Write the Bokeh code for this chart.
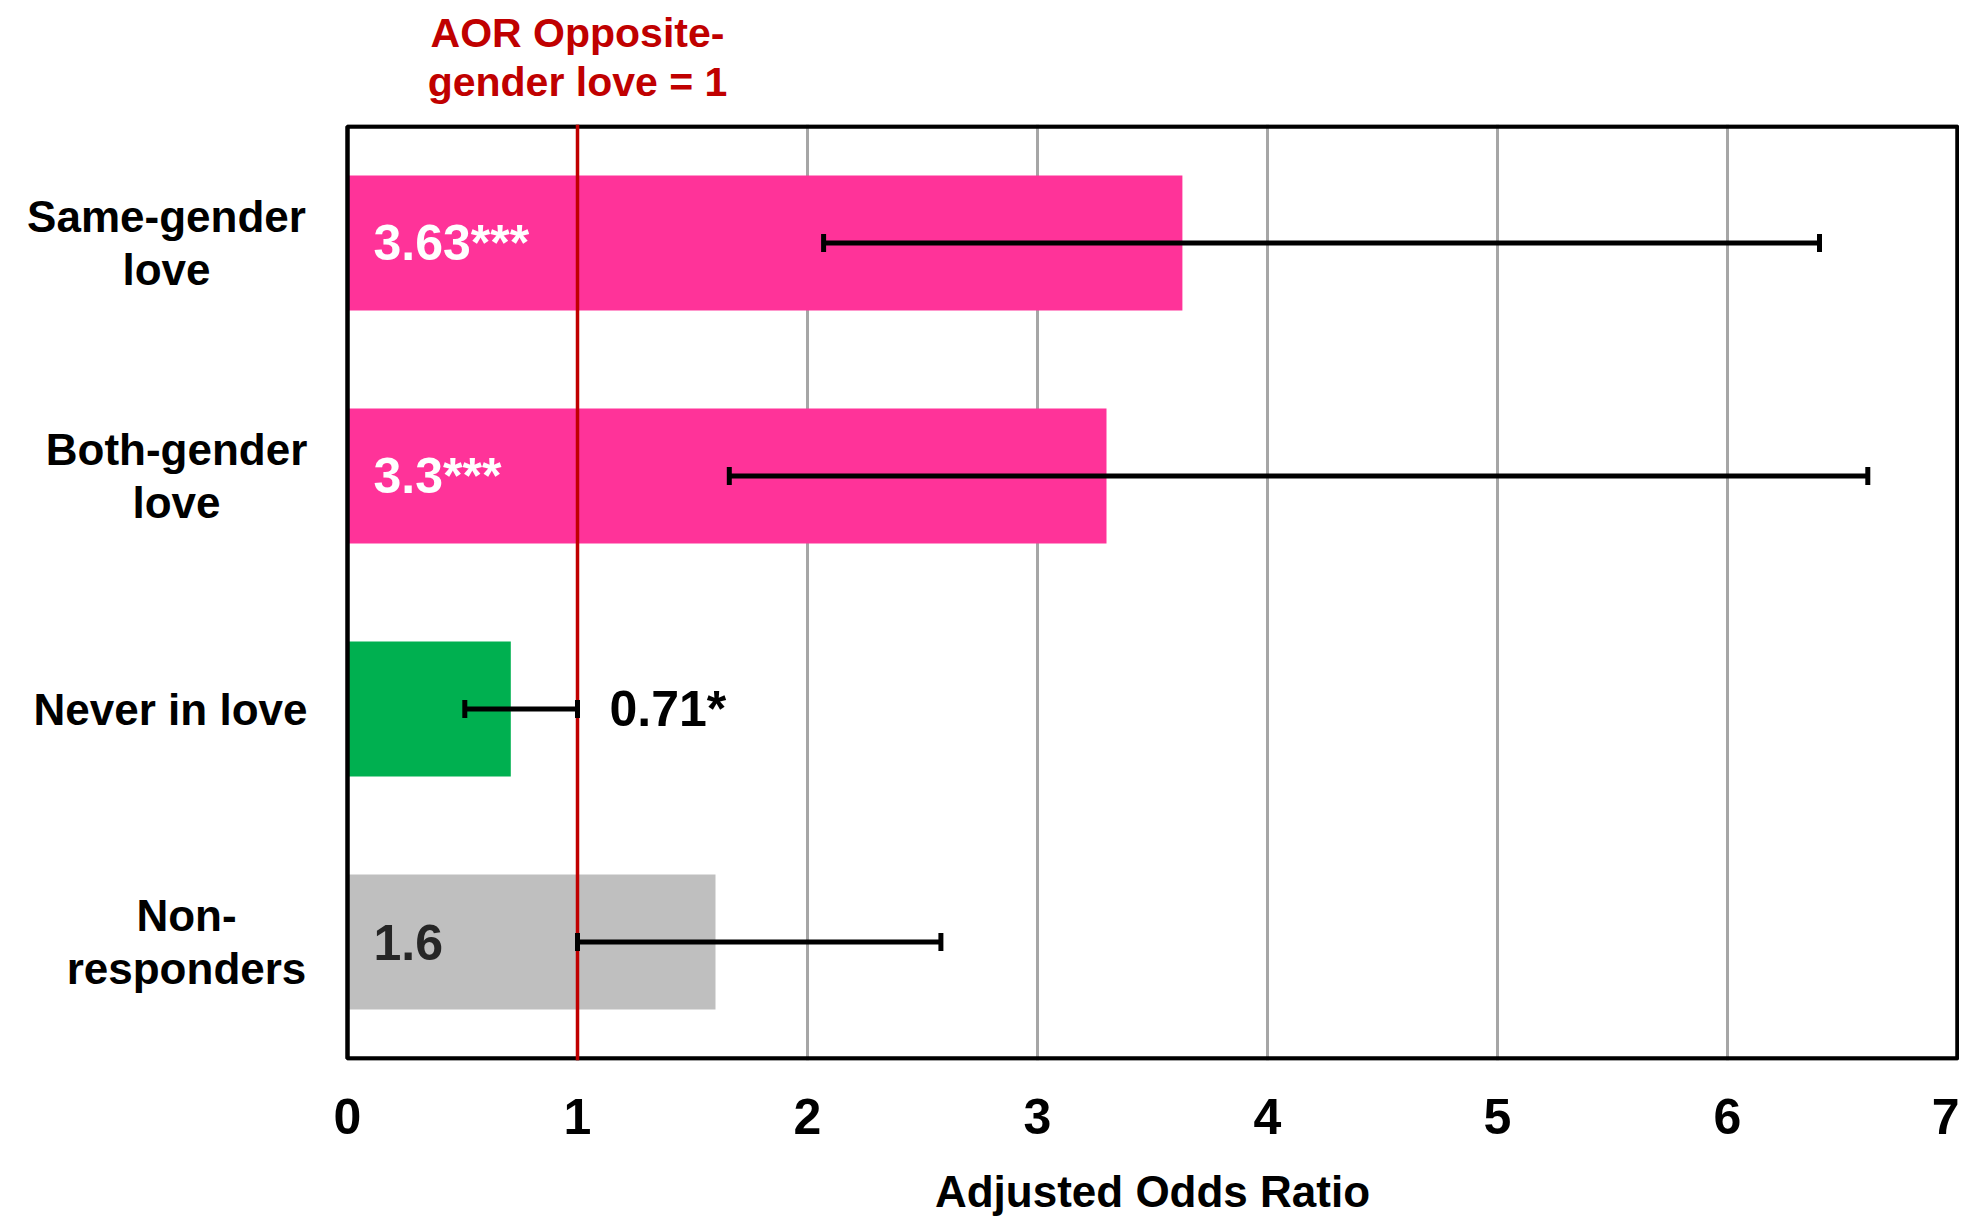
from bokeh.plotting import figure
from bokeh.models import (ColumnDataSource, Range1d, Span, LabelSet,
                          Whisker, TeeHead, FixedTicker, LinearAxis)
from bokeh.core.properties import value
from bokeh.embed import file_html
from bokeh.resources import INLINE

# ---------------- data ----------------
categories = ["Same-gender\nlove", "Both-gender\nlove", "Never in love", "Non-\nresponders"]
aor = [3.63, 3.3, 0.71, 1.6]
ci_low = [2.07, 1.66, 0.51, 1.0]
ci_high = [6.4, 6.61, 1.0, 2.58]
value_labels = ["3.63***", "3.3***", "0.71*", "1.6"]
bar_colors = ["#FF3399", "#FF3399", "#00B050", "#BFBFBF"]
value_label_colors = ["#FFFFFF", "#FFFFFF", "#000000", "#262626"]
label_inside = [True, True, False, True]
x_ticks = [0, 1, 2, 3, 4, 5, 6, 7]
x_max = 7
reference_value = 1
annotation_text = "AOR Opposite-\ngender love = 1"
x_axis_title = "Adjusted Odds Ratio"

# ---------------- styling / layout ----------------
FONT = "Liberation Sans"
BOX_LEFT_PX = 347          # space left of the plot box (category labels live here)
BOX_W_PX = 1610            # plot box width
BOX_H_PX = 933             # plot box height
PAD_PX = 2                 # so the box border is not clipped
TOP_PX = 124
cat_label_offsets = [-181, -171, -177, -161]   # px from box left to label centre

n = len(categories)
ppu_x = BOX_W_PX / x_max
ppu_y = BOX_H_PX / n
x_range = Range1d(-BOX_LEFT_PX / ppu_x, x_max + PAD_PX / ppu_x)
y_range = Range1d(-PAD_PX / ppu_y, n + PAD_PX / ppu_y)

frame_w = BOX_LEFT_PX + BOX_W_PX + PAD_PX
frame_h = BOX_H_PX + 2 * PAD_PX
p = figure(
    width=frame_w, height=1218,
    x_range=x_range, y_range=y_range,
    output_backend="svg", toolbar_location=None,
    min_border_left=0, min_border_right=0, min_border_top=TOP_PX,
    min_border_bottom=1218 - TOP_PX - frame_h,
)
p.background_fill_color = "white"
p.border_fill_color = "white"
p.outline_line_color = None

# x axis (bottom)
p.xaxis.ticker = FixedTicker(ticks=x_ticks)
p.xaxis.major_tick_line_color = None
p.xaxis.minor_tick_line_color = None
p.xaxis.major_tick_out = 0
p.xaxis.major_tick_in = 0
p.xaxis.axis_line_color = None
p.xaxis.major_label_text_font = FONT
p.xaxis.major_label_text_font_style = "bold"
p.xaxis.major_label_text_font_size = "50px"
p.xaxis.major_label_text_color = "black"
p.xaxis.major_label_standoff = 38

# x axis title, centred on the plot box (second axis below, one labelled tick at the box centre)
title_axis = LinearAxis(
    ticker=FixedTicker(ticks=[x_max / 2]),
    major_label_overrides={x_max / 2: x_axis_title},
    axis_line_color=None, major_tick_line_color=None, minor_tick_line_color=None,
    major_tick_out=0, major_tick_in=0,
    major_label_text_font=FONT, major_label_text_font_style="bold",
    major_label_text_font_size="44px", major_label_text_color="black",
    major_label_standoff=30,
)
p.add_layout(title_axis, "below")

p.yaxis.visible = False

# annotation above the reference line, as an axis label on top
top_axis = LinearAxis(
    ticker=FixedTicker(ticks=[reference_value]),
    major_label_overrides={reference_value: annotation_text},
    axis_line_color=None, major_tick_line_color=None, minor_tick_line_color=None,
    major_tick_out=0, major_tick_in=0,
    major_label_text_font=FONT, major_label_text_font_style="bold",
    major_label_text_font_size="41px", major_label_text_color="#C00000",
    major_label_text_line_height=1.05, major_label_standoff=20,
)
p.add_layout(top_axis, "above")

# grid
p.ygrid.visible = False
p.xgrid.ticker = FixedTicker(ticks=x_ticks[1:-1])
p.xgrid.grid_line_color = "#A6A6A6"
p.xgrid.grid_line_width = 3

ypos = [n - i - 0.5 for i in range(n)]
src = ColumnDataSource(dict(
    y=ypos, cat=categories, aor=aor, lo=ci_low, hi=ci_high, color=bar_colors,
    vlabel=value_labels, vcolor=value_label_colors,
    lx=[0 if ins else h for ins, h in zip(label_inside, ci_high)],
    lxoff=[26 if ins else 32 for ins in label_inside],
    cx=[o / ppu_x for o in cat_label_offsets],
))

p.hbar(y="y", right="aor", left=0, height=0.58, color="color", line_color=None, source=src)

# plot box
p.quad(left=0, right=x_max, bottom=0, top=n, fill_color=None, line_color="black", line_width=4.5)

# category labels
p.text(x="cx", y="y", text="cat", source=src, text_color="black",
       text_font=value(FONT), text_font_style="bold", text_font_size="44px",
       text_align="center", text_baseline="middle", text_line_height=1.08)

# reference line
p.add_layout(Span(location=reference_value, dimension="height", line_color="#C00000", line_width=3.5))

# error bars
p.add_layout(Whisker(
    source=src, base="y", lower="lo", upper="hi", dimension="width",
    line_color="black", line_width=5, level="overlay",
    lower_head=TeeHead(size=18, line_width=5, line_color="black"),
    upper_head=TeeHead(size=18, line_width=5, line_color="black"),
))

# value labels
p.add_layout(LabelSet(
    source=src, x="lx", y="y", text="vlabel", x_offset="lxoff",
    text_color="vcolor", text_font=value(FONT), text_font_style="bold",
    text_font_size="50px", text_align="left", text_baseline="middle",
))

open("out.html", "w").write(file_html(p, INLINE))
